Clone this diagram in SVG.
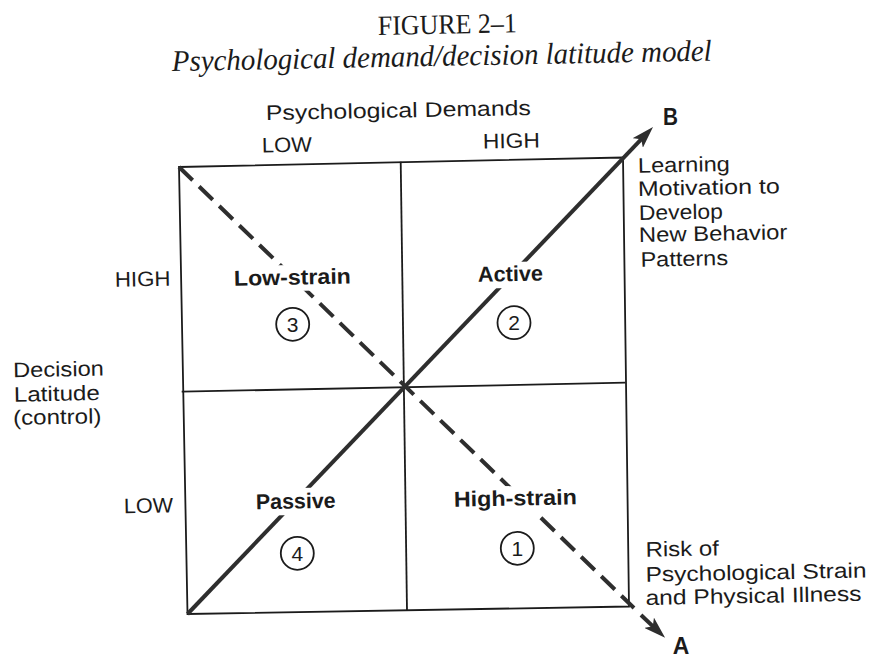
<svg xmlns="http://www.w3.org/2000/svg" width="871" height="660" viewBox="0 0 871 660">
<style>
.box{fill:none;stroke:#1b1b1b;stroke-width:1.8}
.diag{fill:none;stroke:#2e2e2e;stroke-width:4}
.dash{stroke-dasharray:19 9}
.lbl{font-family:"Liberation Sans",Arial,sans-serif;font-size:21px;fill:#1b1b1b}
.bold{font-weight:bold;font-size:21.5px}
.big{font-weight:bold;font-size:23px}
.num{font-size:21px;text-anchor:middle}
.ttl{font-family:"Liberation Serif","Times New Roman",serif;fill:#1b1b1b}
.ko{fill:#fff}
.ring{fill:none;stroke:#1b1b1b;stroke-width:1.8}
</style>
<defs>
<marker id="ah" markerUnits="userSpaceOnUse" markerWidth="22" markerHeight="14" refX="10" refY="7" orient="auto">
<path d="M0,0 L22,7 L0,14 L5,7 Z" fill="#2e2e2e"/>
</marker>
</defs>
<rect width="871" height="660" fill="#fff"/>

<g id="title">
<text class="ttl" x="378" y="35" font-size="28" textLength="139" lengthAdjust="spacingAndGlyphs" transform="rotate(-1.1 378 35)">FIGURE 2–1</text>
<text class="ttl" x="172" y="71" font-size="30" font-style="italic" textLength="540" lengthAdjust="spacingAndGlyphs" transform="rotate(-1.1 172 71)">Psychological demand/decision latitude model</text>
</g>

<g id="grid">
<polygon class="box" points="179,167 623,157.5 629,606.5 187.5,614"/>
<line class="box" x1="400.7" y1="161.7" x2="407" y2="610"/>
<line class="box" x1="181.7" y1="391.7" x2="625.5" y2="382.7"/>
</g>

<g id="axis-demands">
<text class="lbl" x="266" y="120" textLength="265" lengthAdjust="spacingAndGlyphs" transform="rotate(-1.1 266 120)">Psychological Demands</text>
<text class="lbl" x="262" y="152.5" textLength="50" lengthAdjust="spacingAndGlyphs" transform="rotate(-1.1 262 152.5)">LOW</text>
<text class="lbl" x="483" y="148.5" textLength="57" lengthAdjust="spacingAndGlyphs" transform="rotate(-1.1 483 148.5)">HIGH</text>
</g>

<g id="axis-latitude">
<text class="lbl" x="115" y="286.7" textLength="55.7" lengthAdjust="spacingAndGlyphs" transform="rotate(-1.1 115 286.7)">HIGH</text>
<text class="lbl" x="13.3" y="377.3" textLength="90.7" lengthAdjust="spacingAndGlyphs" transform="rotate(-1.1 13.3 377.3)">Decision</text>
<text class="lbl" x="14" y="401.7" textLength="86" lengthAdjust="spacingAndGlyphs" transform="rotate(-1.1 14 401.7)">Latitude</text>
<text class="lbl" x="13.3" y="425" textLength="88.3" lengthAdjust="spacingAndGlyphs" transform="rotate(-1.1 13.3 425)">(control)</text>
<text class="lbl" x="124" y="513.3" textLength="49.3" lengthAdjust="spacingAndGlyphs" transform="rotate(-1.1 124 513.3)">LOW</text>
</g>

<g id="connectors">
<line class="diag" x1="187.5" y1="614" x2="644.7" y2="135.7" marker-end="url(#ah)"/>
<line class="diag dash" x1="179" y1="167" x2="634" y2="608"/>
<line class="diag" x1="641" y1="615" x2="656.4" y2="629.6" marker-end="url(#ah)"/>
</g>

<g id="q-low-strain">
<rect class="ko" x="229" y="265" width="127" height="26" transform="rotate(-1.1 292 278)"/>
<text class="lbl bold" x="234" y="285.7" textLength="117" lengthAdjust="spacingAndGlyphs" transform="rotate(-1.1 234 285.7)">Low-strain</text>
<circle class="ring" cx="292.7" cy="324.3" r="16.5"/>
<text class="lbl num" x="292.7" y="331.8">3</text>
</g>

<g id="q-active">
<rect class="ko" x="473" y="262" width="75" height="26" transform="rotate(-1.1 510 275)"/>
<text class="lbl bold" x="478" y="281.7" textLength="65" lengthAdjust="spacingAndGlyphs" transform="rotate(-1.1 478 281.7)">Active</text>
<circle class="ring" cx="514" cy="322.7" r="16.5"/>
<text class="lbl num" x="514" y="330.2">2</text>
</g>

<g id="q-passive">
<rect class="ko" x="251" y="488" width="90" height="27" transform="rotate(-1.1 296 501)"/>
<text class="lbl bold" x="256" y="509.3" textLength="79.7" lengthAdjust="spacingAndGlyphs" transform="rotate(-1.1 256 509.3)">Passive</text>
<circle class="ring" cx="297.3" cy="553.3" r="16.5"/>
<text class="lbl num" x="297.3" y="560.8">4</text>
</g>

<g id="q-high-strain">
<rect class="ko" x="449" y="486" width="133" height="28" transform="rotate(-1.1 515 500)"/>
<text class="lbl bold" x="454" y="506.7" textLength="123" lengthAdjust="spacingAndGlyphs" transform="rotate(-1.1 454 506.7)">High-strain</text>
<circle class="ring" cx="517.3" cy="548.3" r="16.5"/>
<text class="lbl num" x="517.3" y="555.8">1</text>
</g>

<g id="outcome-B">
<text class="lbl big" x="663" y="125" textLength="15" lengthAdjust="spacingAndGlyphs">B</text>
<text class="lbl" x="638" y="172.7" textLength="92" lengthAdjust="spacingAndGlyphs" transform="rotate(-1.1 638 172.7)">Learning</text>
<text class="lbl" x="638" y="196" textLength="142" lengthAdjust="spacingAndGlyphs" transform="rotate(-1.1 638 196)">Motivation to</text>
<text class="lbl" x="639" y="220" textLength="84" lengthAdjust="spacingAndGlyphs" transform="rotate(-1.1 639 220)">Develop</text>
<text class="lbl" x="639" y="242" textLength="148.5" lengthAdjust="spacingAndGlyphs" transform="rotate(-1.1 639 242)">New Behavior</text>
<text class="lbl" x="640.7" y="266.7" textLength="87.5" lengthAdjust="spacingAndGlyphs" transform="rotate(-1.1 640.7 266.7)">Patterns</text>
</g>

<g id="outcome-A">
<text class="lbl" x="645.7" y="556.7" textLength="73.3" lengthAdjust="spacingAndGlyphs" transform="rotate(-1.1 645.7 556.7)">Risk of</text>
<text class="lbl" x="645.7" y="581.7" textLength="221" lengthAdjust="spacingAndGlyphs" transform="rotate(-1.1 645.7 581.7)">Psychological Strain</text>
<text class="lbl" x="645.7" y="605" textLength="216" lengthAdjust="spacingAndGlyphs" transform="rotate(-1.1 645.7 605)">and Physical Illness</text>
<text class="lbl big" x="672.7" y="654" textLength="16.6" lengthAdjust="spacingAndGlyphs">A</text>
</g>
</svg>
